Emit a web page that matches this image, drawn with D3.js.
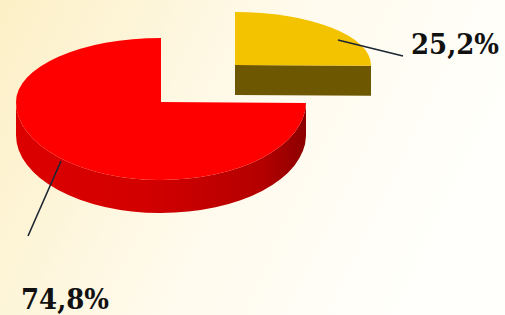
<!doctype html>
<html>
<head>
<meta charset="utf-8"/>
<title>Pie 3D</title>
<script src="https://d3js.org/d3.v7.min.js"></script>
<style>
body{margin:0;padding:0;overflow:hidden;}
</style>
</head>
<body>
<script type="text/javascript">
// data
var labels = ["25,2%", "74,8%"];
var values = [25.2, 74.8];
var topColors = ["#f4c300", "#ff0000"];
var sideColors = ["#6d5700", "url(#redSide)"];

var W = 505, H = 315;

var svg = d3.select("body").append("svg")
    .attr("width", W)
    .attr("height", H);

var defs = svg.append("defs");
var bg = defs.append("linearGradient").attr("id", "bg")
    .attr("x1", "0").attr("y1", "0").attr("x2", "1").attr("y2", "0.3");
bg.append("stop").attr("offset", "0").attr("stop-color", "#fcf0c6");
bg.append("stop").attr("offset", "0.55").attr("stop-color", "#fffaec");
bg.append("stop").attr("offset", "1").attr("stop-color", "#fffffb");

var rs = defs.append("linearGradient").attr("id", "redSide")
    .attr("x1", "0").attr("y1", "0").attr("x2", "1").attr("y2", "0");
rs.append("stop").attr("offset", "0").attr("stop-color", "#dc0000");
rs.append("stop").attr("offset", "0.45").attr("stop-color", "#d20000");
rs.append("stop").attr("offset", "0.85").attr("stop-color", "#b40000");
rs.append("stop").attr("offset", "1").attr("stop-color", "#8c0000");

svg.append("rect").attr("width", W).attr("height", H).attr("fill", "url(#bg)");

// slice geometry: back half of the rim is flatter than the front (perspective),
// and the exploded slice sits further back so it is drawn smaller
var geo = [
  {cx: 235, cy: 65, rx: 136, ryB: 53, ryF: 62, depth: 30},
  {cx: 161, cy: 102, rx: 145, ryB: 64, ryF: 78, depth: 33}
];

var pie = d3.pie().sort(null).startAngle(0).endAngle(2 * Math.PI);
var arcs = pie(values);

function ry(g, a) { return Math.cos(a) > 0 ? g.ryB : g.ryF; }

function pt(g, a, dy) {
  return [g.cx + g.rx * Math.sin(a), g.cy - ry(g, a) * Math.cos(a) + (dy || 0)];
}

// arc commands from a0 to a1 split at the left/right extremes
function arcCmds(g, a0, a1, dy) {
  var cuts = [a0], k;
  [Math.PI / 2, 3 * Math.PI / 2].forEach(function(c){ if (c > a0 && c < a1) cuts.push(c); });
  cuts.push(a1);
  var s = "";
  for (k = 0; k < cuts.length - 1; k++) {
    var m = (cuts[k] + cuts[k + 1]) / 2;
    s += "A" + g.rx + "," + ry(g, m) + " 0 0 1 " + pt(g, cuts[k + 1], dy);
  }
  return s;
}
function arcCmdsRev(g, a0, a1, dy) {
  var cuts = [a1], k;
  [3 * Math.PI / 2, Math.PI / 2].forEach(function(c){ if (c > a0 && c < a1) cuts.push(c); });
  cuts.push(a0);
  var s = "";
  for (k = 0; k < cuts.length - 1; k++) {
    var m = (cuts[k] + cuts[k + 1]) / 2;
    s += "A" + g.rx + "," + ry(g, m) + " 0 0 0 " + pt(g, cuts[k + 1], dy);
  }
  return s;
}

function topPath(d, g) {
  return "M" + g.cx + "," + g.cy + "L" + pt(g, d.startAngle) + arcCmds(g, d.startAngle, d.endAngle) + "Z";
}

function outerSide(d, g) {
  var a0 = Math.max(d.startAngle, Math.PI / 2);
  var a1 = Math.min(d.endAngle, 3 * Math.PI / 2);
  if (a1 <= a0) return null;
  return "M" + pt(g, a0) + arcCmds(g, a0, a1) + "L" + pt(g, a1, g.depth) +
         arcCmdsRev(g, a0, a1, g.depth) + "Z";
}

// front cut face below the end edge when it points right
function cutSide(d, g) {
  var a = d.endAngle;
  if (Math.cos(a) > 0.05 || Math.sin(a) < 0) return null;
  var p = pt(g, a);
  return "M" + g.cx + "," + g.cy + "L" + p + "L" + [p[0], p[1] + g.depth] +
         "L" + [g.cx, g.cy + g.depth] + "Z";
}

var slices = svg.selectAll("g.slice").data(arcs).enter().append("g").attr("class", "slice");

slices.each(function(d, i) {
  var g = geo[i], s = d3.select(this);
  var c = cutSide(d, g);
  if (c) s.append("path").attr("d", c).attr("fill", sideColors[i]);
  var o = outerSide(d, g);
  if (o) s.append("path").attr("d", o).attr("fill", sideColors[i]);
  s.append("path").attr("d", topPath(d, g)).attr("fill", topColors[i]);
});

// labels with leader lines
var leaders = [
  {from: [338, 40], to: [403, 56], text: [411, 54]},
  {from: [61, 161], to: [28, 236], text: [21, 309]}
];

svg.selectAll("line.leader").data(arcs).enter().append("line")
  .attr("class", "leader")
  .attr("x1", function(d, i){ return leaders[i].from[0]; })
  .attr("y1", function(d, i){ return leaders[i].from[1]; })
  .attr("x2", function(d, i){ return leaders[i].to[0]; })
  .attr("y2", function(d, i){ return leaders[i].to[1]; })
  .attr("stroke", "#1c2733")
  .attr("stroke-width", 1.6);

svg.selectAll("text.lbl").data(arcs).enter().append("text")
  .attr("class", "lbl")
  .attr("x", function(d, i){ return leaders[i].text[0]; })
  .attr("y", function(d, i){ return leaders[i].text[1]; })
  .attr("font-family", "DejaVu Serif, serif")
  .attr("font-weight", "bold")
  .attr("font-size", 27)
  .attr("textLength", 88)
  .attr("lengthAdjust", "spacingAndGlyphs")
  .attr("fill", "#111")
  .text(function(d, i){ return labels[i]; });
</script>
</body>
</html>
